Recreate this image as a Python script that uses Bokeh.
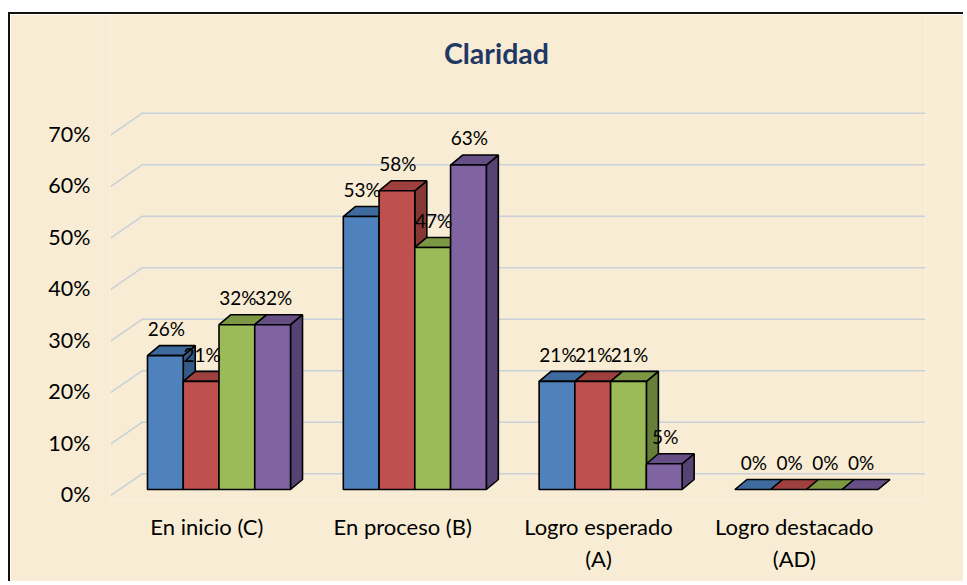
from bokeh.plotting import figure
from bokeh.models import Range1d, LinearAxis, FixedTicker
from bokeh.core.properties import value
from bokeh.embed import file_html
from bokeh.resources import INLINE

# ---------------- data ----------------
title_text = "Claridad"
categories = ["En inicio (C)", "En proceso (B)", "Logro esperado\n(A)", "Logro destacado\n(AD)"]
series1 = [26, 53, 21, 0]
series2 = [21, 58, 21, 0]
series3 = [32, 47, 21, 0]
series4 = [32, 63, 5, 0]
y_ticks = [0, 10, 20, 30, 40, 50, 60, 70]
tick_labels = ["0%", "10%", "20%", "30%", "40%", "50%", "60%", "70%"]

series = [series1, series2, series3, series4]
front_colors = ["#4F81BD", "#C0504D", "#9BBB59", "#8064A2"]
top_colors = ["#3E6A9E", "#9E403D", "#7C9845", "#664F85"]
side_colors = ["#345A87", "#863835", "#66803A", "#554373"]

BG = "#F8EDD4"
FONT = "Lato"

# geometry (data units)
x_start, x_end = -0.5541, 3.608
y_start, y_end = -2.136, 92.23
bar_w = 0.1826
group_w = bar_w * 4
dx = 0.0613   # depth offset in x
dy = 1.94     # depth offset in y

p = figure(width=955, height=569, output_backend="svg", toolbar_location=None,
           x_range=Range1d(x_start, x_end), y_range=Range1d(y_start, y_end),
           min_border_left=100, min_border_right=40, min_border_top=0, min_border_bottom=83,
           background_fill_color=BG, border_fill_color=BG, outline_line_color=None)
p.styles = {"margin-left": "8px", "margin-top": "12px",
            "border-left": "2px solid #111", "border-top": "2px solid #111"}
p.xaxis.visible = False
p.yaxis.visible = False
p.grid.visible = False

# ---- back-wall gridlines (perspective) ----
gx0 = x_start
gx1 = x_start + 0.163
for g in y_ticks:
    p.line([gx0, gx1, x_end], [g - 1.2, g + 3.07, g + 3.07], line_color="#C8D0DA", line_width=1.6)

# ---- tick labels via axis on shifted extra range ----
p.extra_y_ranges = {"ticks": Range1d(y_start + 0.97, y_end + 0.97)}
yax = LinearAxis(y_range_name="ticks", ticker=FixedTicker(ticks=y_ticks),
                 major_label_overrides={t: l for t, l in zip(y_ticks, tick_labels)},
                 axis_line_color=None, major_tick_line_color=None, minor_tick_line_color=None,
                 major_tick_out=0, major_tick_in=0, major_label_standoff=20,
                 major_label_text_font=FONT, major_label_text_font_size="21.5px",
                 major_label_text_color="#000000")
p.add_layout(yax, "left")

# ---- category labels ----
p.extra_x_ranges = {"cats": Range1d(x_start + 0.062, x_end + 0.062)}
cat_pos = list(range(len(categories)))
xax = LinearAxis(x_range_name="cats", ticker=FixedTicker(ticks=cat_pos),
                 major_label_overrides={i: c for i, c in zip(cat_pos, categories)},
                 axis_line_color=None, major_tick_line_color=None, minor_tick_line_color=None,
                 major_tick_out=0, major_tick_in=0, major_label_standoff=12,
                 major_label_text_font=FONT, major_label_text_font_size="22px",
                 major_label_text_color="#000000")
p.add_layout(xax, "below")

# ---- 3D bars ----
for gi in range(len(categories)):
    for si, s in enumerate(series):
        v = s[gi]
        left = gi - group_w / 2 + si * bar_w
        right = left + bar_w
        # side face
        p.patch([right, right + dx, right + dx, right], [0, dy, v + dy, v],
                fill_color=side_colors[si], line_color="#000000", line_width=1.6)
        # top face
        p.patch([left, right, right + dx, left + dx], [v, v, v + dy, v + dy],
                fill_color=top_colors[si], line_color="#000000", line_width=1.6)
        # front face
        if v > 0:
            p.quad(left=left, right=right, bottom=0, top=v,
                   fill_color=front_colors[si], line_color="#000000", line_width=1.6)

# ---- data labels ----
for gi in range(len(categories)):
    xs, ys, ts = [], [], []
    for si, s in enumerate(series):
        v = s[gi]
        left = gi - group_w / 2 + si * bar_w
        xs.append(left + bar_w / 2 + 0.005)
        ys.append(v + 5.3)
        ts.append(f"{v}%")
    p.text(xs, ys, text=ts, text_align="center", text_baseline="middle",
           text_font=value(FONT), text_font_size="19px", text_color="#000000")

# ---- title ----
p.text([1.417], [84.8], text=[title_text], text_align="center", text_baseline="middle",
       text_font=value(FONT), text_font_size="28.5px", text_font_style="bold",
       text_color="#1F3864")

open("out.html", "w").write(file_html(p, INLINE))
